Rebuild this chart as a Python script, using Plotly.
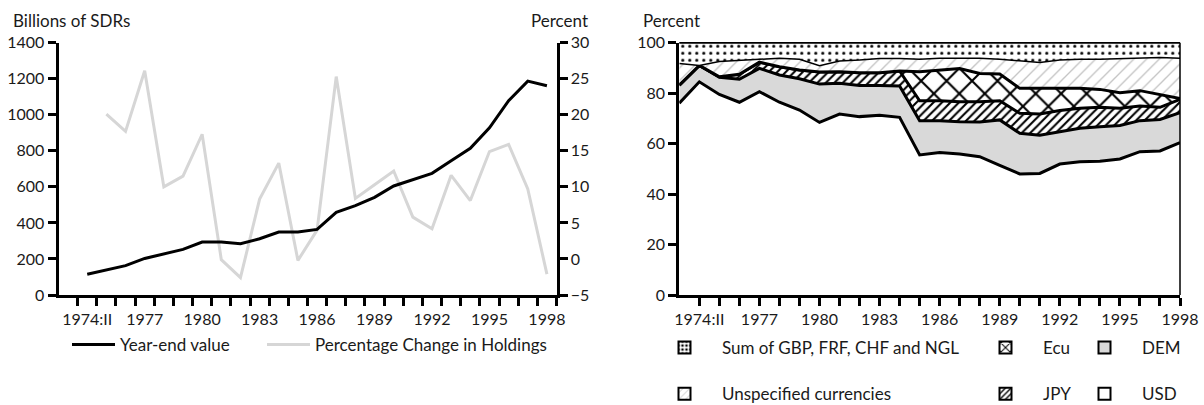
import plotly.graph_objects as go

W, H = 1204, 405

# ---------------- data: left chart ----------------
periods = ["1974:II", "1975", "1976", "1977", "1978", "1979", "1980", "1981", "1982",
           "1983", "1984", "1985", "1986", "1987", "1988", "1989", "1990", "1991",
           "1992", "1993", "1994", "1995", "1996", "1997", "1998"]
tick_labels = ["1974:II", "1977", "1980", "1983", "1986", "1989", "1992", "1995", "1998"]
year_end_value = [115, 139, 163, 203, 228, 253, 294, 294, 285, 312, 349, 349, 364,
                  459, 496, 542, 605, 642, 675, 745, 814, 928, 1078, 1187, 1161]
pct_change = [None, 20.1, 17.7, 26.1, 10.0, 11.5, 17.3, -0.1, -2.6, 8.3, 13.3, -0.2,
              4.0, 25.3, 8.4, 10.3, 12.2, 5.8, 4.2, 11.6, 8.1, 14.9, 15.9, 9.7, -2.1]

# ---------------- data: right chart (shares, percent) ----------------
share_periods = ["1974:I"] + periods
usd = [76.0, 84.5, 79.5, 76.4, 80.6, 76.4, 73.3, 68.4, 71.7, 70.7, 71.2, 70.4, 55.5,
       56.5, 55.9, 54.8, 51.4, 48.0, 48.2, 51.9, 52.8, 53.0, 53.9, 56.8, 57.1, 60.4]
dem = [7.2, 6.5, 6.8, 9.1, 9.2, 10.8, 12.4, 15.2, 12.2, 12.3, 11.8, 12.4, 13.6,
       12.6, 12.8, 13.8, 18.0, 16.1, 15.1, 12.8, 13.3, 13.7, 13.3, 12.3, 12.5, 11.9]
jpy = [0.0, 0.0, 0.2, 2.0, 2.5, 3.3, 3.5, 4.8, 4.6, 5.1, 5.1, 6.0, 7.9,
       7.9, 7.9, 8.0, 7.6, 7.9, 8.4, 8.4, 7.9, 7.7, 6.8, 5.8, 4.8, 5.2]
ecu = [0.0, 0.0, 0.0, 0.0, 0.0, 0.0, 0.0, 0.0, 0.0, 0.0, 0.0, 0.0, 11.5,
       12.2, 13.2, 11.2, 10.6, 9.9, 10.2, 8.8, 7.9, 7.1, 6.2, 6.1, 4.9, 0.4]
unspecified = [8.6, 0.0, 6.0, 5.6, 1.1, 3.3, 4.2, 2.5, 4.2, 5.0, 5.6, 4.9, 4.9,
               4.6, 4.0, 6.0, 5.8, 10.8, 10.3, 11.2, 11.5, 11.9, 13.5, 12.8, 14.8, 15.9]
sum_gbp_frf_chf_ngl = [8.2, 9.0, 7.5, 6.9, 6.6, 6.2, 6.6, 9.1, 7.3, 6.9, 6.3, 6.3, 6.6,
                       6.2, 6.2, 6.2, 6.6, 7.3, 7.8, 6.9, 6.6, 6.6, 6.3, 6.2, 5.9, 6.2]

FONT = "Lato, 'Liberation Sans', Arial, sans-serif"
TXT = "#1a1a1a"
TICK_SIZE = 16
TEXT_SIZE = 17


def px_x(p):
    return p / W


def px_y(p):
    return (H - p) / H


xl = list(range(len(periods)))
xr = list(range(len(share_periods)))

fig = go.Figure()

# left chart lines
fig.add_trace(go.Scatter(x=xl, y=pct_change, xaxis="x", yaxis="y",
                         mode="lines", line=dict(color="#d6d6d6", width=3),
                         name="Percentage Change in Holdings", legend="legend2"))
fig.add_trace(go.Scatter(x=xl, y=year_end_value, xaxis="x", yaxis="y2",
                         mode="lines", line=dict(color="black", width=3),
                         name="Year-end value", legend="legend"))

# right chart stacked areas
layers = [
    ("USD", usd, dict(fillcolor="white"), 3),
    ("DEM", dem, dict(fillcolor="#d9d9d9"), 3),
    ("JPY", jpy, dict(fillpattern=dict(shape="/", fgcolor="black", bgcolor="white",
                                       size=6, solidity=0.35)), 3),
    ("Ecu", ecu, dict(fillpattern=dict(shape="x", fgcolor="black", bgcolor="white",
                                       size=18, solidity=0.22)), 3),
    ("Unspecified currencies", unspecified,
     dict(fillpattern=dict(shape="/", fgcolor="#c4c4c4", bgcolor="white",
                           size=9, solidity=0.15)), 1.5),
    ("Sum of GBP, FRF, CHF and NGL", sum_gbp_frf_chf_ngl,
     dict(fillpattern=dict(shape=".", fgcolor="black", bgcolor="white",
                           size=7, solidity=0.15)), 1.5),
]
for name, vals, fill, lw in layers:
    fig.add_trace(go.Scatter(x=xr, y=vals, xaxis="x2", yaxis="y3", mode="lines",
                             stackgroup="shares", line=dict(color="black", width=lw),
                             name=name, showlegend=False, **fill))

# legend entries for right chart (square swatches)
legend_spec = [
    ("Sum of GBP, FRF, CHF and NGL", dict(color="white", pattern=dict(shape=".", fgcolor="black", bgcolor="white", size=5, solidity=0.35)), "legend3", 1),
    ("Unspecified currencies", dict(color="white", pattern=dict(shape="/", fgcolor="#c4c4c4", bgcolor="white", size=6, solidity=0.2)), "legend3", 2),
    ("Ecu", dict(color="white", pattern=dict(shape="x", fgcolor="black", bgcolor="white", size=8, solidity=0.3)), "legend4", 1),
    ("JPY", dict(color="white", pattern=dict(shape="/", fgcolor="black", bgcolor="white", size=5, solidity=0.35)), "legend4", 2),
    ("DEM", dict(color="#d9d9d9"), "legend5", 1),
    ("USD", dict(color="white"), "legend5", 2),
]
for name, mk, lg, rank in legend_spec:
    mk = dict(mk)
    mk["line"] = dict(color="black", width=2)
    fig.add_trace(go.Bar(x=[None], y=[None], xaxis="x2", yaxis="y3", name=name,
                         marker=mk, legend=lg, legendgroup=name, legendrank=rank,
                         showlegend=True))

ydom = [px_y(295), px_y(42.7)]

axis_common = dict(showgrid=False, zeroline=False, showline=True, linecolor="black",
                   linewidth=3, ticks="outside", tickcolor="black", tickwidth=2.5,
                   ticklen=8, automargin=False,
                   tickfont=dict(family=FONT, size=TICK_SIZE, color=TXT))

legend_common = dict(orientation="v", xanchor="left", bgcolor="rgba(0,0,0,0)",
                     borderwidth=0, font=dict(family=FONT, size=TEXT_SIZE, color=TXT))

fig.update_layout(
    template="none",
    width=W, height=H, autosize=False,
    margin=dict(l=0, r=0, t=0, b=0, pad=0, autoexpand=False),
    paper_bgcolor="white", plot_bgcolor="rgba(0,0,0,0)",
    font=dict(family=FONT, size=TEXT_SIZE, color=TXT),
    barmode="overlay",
    xaxis=dict(domain=[px_x(58.5), px_x(556.5)], range=[-1.5, len(periods) - 0.5],
               tickmode="array", tickvals=[periods.index(t) for t in tick_labels],
               ticktext=tick_labels, anchor="y",
               **{**axis_common, "tickcolor": "rgba(0,0,0,0)"},
               minor=dict(tickmode="array",
                          tickvals=[i - 0.5 for i in range(len(periods) + 1)],
                          ticks="outside", ticklen=8, tickwidth=2.5, tickcolor="black",
                          showgrid=False)),
    yaxis=dict(domain=ydom, range=[-5, 30], dtick=5, tick0=0, side="right",
               anchor="x", **axis_common),
    yaxis2=dict(domain=ydom, range=[0, 1400], dtick=200, tick0=0, side="left",
                overlaying="y", anchor="x", **axis_common),
    xaxis2=dict(domain=[px_x(679.3), px_x(1180)], range=[0, len(share_periods) - 1],
                tickmode="array", tickvals=xr[1:],
                ticktext=[p if p in tick_labels else "" for p in share_periods[1:]],
                anchor="y3", **axis_common),
    yaxis3=dict(domain=ydom, range=[0, 100], dtick=20, tick0=0, anchor="x2",
                **axis_common),
    legend=dict(x=px_x(67), y=px_y(345), yanchor="middle", itemwidth=43, **legend_common),
    legend2=dict(x=px_x(262), y=px_y(345), yanchor="middle", itemwidth=43, **legend_common),
    legend3=dict(x=px_x(647), y=px_y(330), yanchor="top", itemwidth=65,
                 tracegroupgap=21, traceorder="grouped", **legend_common),
    legend4=dict(x=px_x(968), y=px_y(330), yanchor="top", itemwidth=65,
                 tracegroupgap=21, traceorder="grouped", **legend_common),
    legend5=dict(x=px_x(1067), y=px_y(330), yanchor="top", itemwidth=65,
                 tracegroupgap=21, traceorder="grouped", **legend_common),
    shapes=[
        dict(type="line", xref="x2 domain", yref="y3 domain", x0=1, x1=1, y0=0, y1=1,
             line=dict(color="black", width=1.5)),
        dict(type="line", xref="x2 domain", yref="y3 domain", x0=0, x1=1, y0=1, y1=1,
             line=dict(color="black", width=1.5)),
    ],
    annotations=[
        dict(text="Billions of SDRs", x=px_x(11), y=px_y(20), xref="paper", yref="paper",
             xanchor="left", yanchor="middle", showarrow=False,
             font=dict(family=FONT, size=TEXT_SIZE, color=TXT)),
        dict(text="Percent", x=px_x(590), y=px_y(20), xref="paper", yref="paper",
             xanchor="right", yanchor="middle", showarrow=False,
             font=dict(family=FONT, size=TEXT_SIZE, color=TXT)),
        dict(text="Percent", x=px_x(641), y=px_y(20), xref="paper", yref="paper",
             xanchor="left", yanchor="middle", showarrow=False,
             font=dict(family=FONT, size=TEXT_SIZE, color=TXT)),
    ],
)

fig.write_html(
    "out.html",
    config={"displayModeBar": False},
    post_script="document.body.style.margin='0px';document.body.style.overflow='hidden';",
)
